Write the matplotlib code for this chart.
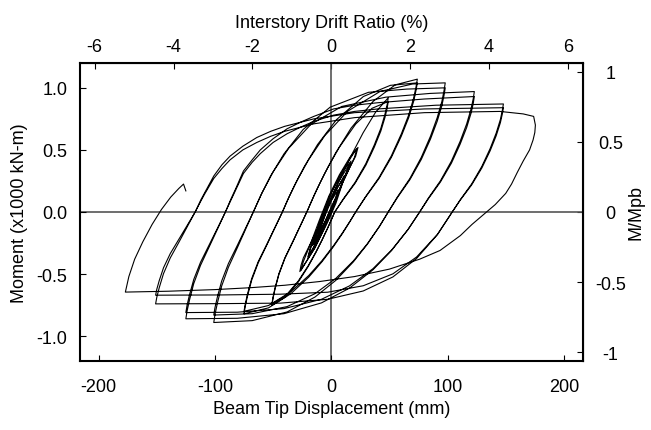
import matplotlib
matplotlib.use("Agg")
import matplotlib.pyplot as plt
import numpy as np

plt.rcParams["font.family"] = ["Liberation Sans", "DejaVu Sans"]
plt.rcParams["font.size"] = 13
plt.rcParams["axes.unicode_minus"] = False

# conversion factors for the secondary axes
mm_per_pct = 33.9     # beam tip mm per 1 % drift
mpb = 1.128           # Mpb in x1000 kN-m

# hysteresis path, (displacement mm, moment x1000 kN-m), in loading order
elastic_cycles = [
    (0, 0.0), (3, 0.08), (6, 0.17),
    (4, 0.11), (1, 0.03), (-4, -0.07), (-10, -0.16),
    (-8, -0.10), (-5, -0.02), (0, 0.09), (6, 0.18),
    (4, 0.12), (0, 0.04), (-5, -0.07), (-11, -0.18),
    (-9, -0.11), (-6, -0.03), (1, 0.13), (11, 0.28),
    (9, 0.22), (5, 0.13), (0, 0.02), (-8, -0.13), (-15, -0.26),
    (-12, -0.18), (-8, -0.09), (-3, 0.04), (5, 0.19), (11, 0.29),
    (9, 0.22), (4, 0.11), (-2, -0.01), (-9, -0.15), (-16, -0.27),
    (-14, -0.21), (-10, -0.11), (-4, 0.04), (6, 0.24), (16, 0.39),
    (14, 0.34), (9, 0.22), (4, 0.10), (-1, -0.01), (-7, -0.14), (-13, -0.25), (-20, -0.36),
    (-18, -0.29), (-13, -0.17), (-7, -0.01), (1, 0.17), (9, 0.32), (17, 0.41),
    (14, 0.34), (9, 0.23), (3, 0.08), (-3, -0.05), (-11, -0.21), (-20, -0.37),
    (-18, -0.30), (-14, -0.20), (-8, -0.03), (0, 0.16), (8, 0.30), (15, 0.41), (19, 0.47), (22, 0.51),
    (20, 0.44), (15, 0.34), (8, 0.20), (1, 0.02), (-6, -0.13), (-15, -0.30), (-26, -0.47),
    (-24, -0.40), (-18, -0.26), (-10, -0.06), (-2, 0.13), (7, 0.30), (16, 0.44), (23, 0.52),
    (21, 0.45), (16, 0.36), (10, 0.24), (4, 0.07), (-3, -0.08), (-14, -0.29), (-27, -0.48),
]
up_50_1 = [(-27, -0.48), (-26, -0.43), (-24, -0.37), (-14, -0.18), (-5, 0.0), (-2.8, 0.047),
           (-0.1, 0.106), (3.6, 0.184), (9, 0.296), (16.6, 0.444), (27.4, 0.638), (38.2, 0.805), (49, 0.92)]
down_50_1 = [(49, 0.92), (48.1, 0.867), (46.2, 0.788), (42.6, 0.673), (37, 0.54), (29.7, 0.389), (20.5, 0.239),
             (10.4, 0.106), (3, 0.0), (0.3, -0.058), (-3.5, -0.137), (-7.8, -0.222), (-13.2, -0.322),
             (-19.7, -0.431), (-28.3, -0.555), (-39.1, -0.674), (-51, -0.74)]
up_50_2 = [(-51, -0.74), (-50.1, -0.688), (-48.3, -0.61), (-45, -0.496), (-39.9, -0.37), (-33, -0.237),
           (-27, -0.118), (-21, 0.0), (-18.2, 0.06), (-14.7, 0.134), (-9.8, 0.231), (-2.8, 0.361), (7, 0.522),
           (21, 0.708), (35, 0.835), (49, 0.89)]
down_50_2 = [(49, 0.89), (48.1, 0.838), (46.2, 0.762), (42.6, 0.651), (37, 0.522), (29.7, 0.376), (20.5, 0.231),
             (10.4, 0.102), (3, 0.0), (0.3, -0.059), (-3.5, -0.139), (-7.8, -0.225), (-13.2, -0.326),
             (-19.7, -0.437), (-28.3, -0.563), (-39.1, -0.683), (-51, -0.75)]
up_75_1 = [(-51, -0.75), (-50.1, -0.698), (-48.3, -0.619), (-45, -0.503), (-39.9, -0.375), (-33, -0.24),
           (-27, -0.12), (-21, 0.0), (-17.2, 0.082), (-12.5, 0.18), (-5.8, 0.308), (3.7, 0.475), (17, 0.675),
           (36, 0.891), (55, 1.024), (74, 1.07)]
down_75_1 = [(74, 1.07), (72.9, 1.008), (70.8, 0.916), (66.6, 0.782), (60.2, 0.628), (51.7, 0.453), (41.1, 0.278),
             (29.5, 0.123), (21, 0.0), (16.2, -0.075), (9.5, -0.175), (1.8, -0.28), (-7.8, -0.399),
             (-19.3, -0.524), (-34.7, -0.658), (-53.9, -0.772), (-75, -0.82)]
up_75_2 = [(-75, -0.82), (-74, -0.763), (-72, -0.677), (-68.4, -0.549), (-62.8, -0.41), (-55.2, -0.262),
           (-48.6, -0.131), (-42, 0.0), (-37.4, 0.099), (-31.6, 0.214), (-23.4, 0.362), (-11.8, 0.543),
           (4.4, 0.743), (27.6, 0.93), (50.8, 1.02), (74, 1.04)]
down_75_2 = [(74, 1.04), (72.9, 0.98), (70.8, 0.89), (66.6, 0.76), (60.2, 0.61), (51.7, 0.44), (41.1, 0.27),
             (29.5, 0.12), (21, 0.0), (16.2, -0.073), (9.5, -0.17), (1.8, -0.273), (-7.8, -0.39),
             (-19.3, -0.511), (-34.7, -0.642), (-53.9, -0.753), (-75, -0.80)]
up_100_1 = [(-75, -0.80), (-74, -0.744), (-72, -0.66), (-68.4, -0.536), (-62.8, -0.4), (-55.2, -0.256),
            (-48.6, -0.128), (-42, 0.0), (-36.4, 0.119), (-29.4, 0.253), (-19.6, 0.419), (-5.6, 0.614),
            (14, 0.811), (42, 0.971), (70, 1.031), (98, 1.04)]
down_100_1 = [(98, 1.04), (97, 0.98), (95.1, 0.89), (91.1, 0.76), (85.3, 0.61), (77.4, 0.44), (67.6, 0.27),
              (56.8, 0.12), (49, 0.0), (41.5, -0.115), (31, -0.26), (19, -0.402), (4, -0.55), (-14, -0.685),
              (-38, -0.805), (-68, -0.875), (-101, -0.89)]
up_100_2 = [(-101, -0.89), (-100, -0.828), (-97.9, -0.734), (-94.2, -0.596), (-88.4, -0.445), (-80.6, -0.285),
            (-73.8, -0.142), (-67, 0.0), (-60.4, 0.138), (-52.2, 0.29), (-40.6, 0.469), (-24.1, 0.665),
            (-1, 0.844), (32, 0.964), (65, 0.99), (98, 1.0)]
down_100_2 = [(98, 1.0), (97, 0.942), (95.1, 0.856), (91.1, 0.731), (85.3, 0.587), (77.4, 0.423), (67.6, 0.26),
              (56.8, 0.115), (49, 0.0), (41.5, -0.115), (31, -0.256), (19, -0.394), (4, -0.534), (-14, -0.658),
              (-38, -0.762), (-68, -0.819), (-101, -0.83)]
up_125_1 = [(-101, -0.83), (-100, -0.772), (-97.9, -0.685), (-94.2, -0.556), (-88.4, -0.415), (-80.6, -0.266),
            (-73.8, -0.133), (-67, 0.0), (-59.4, 0.156), (-49.9, 0.324), (-36.6, 0.513), (-17.6, 0.705),
            (9, 0.85), (47, 0.925), (85, 0.955), (123, 0.97)]
down_125_1 = [(123, 0.97), (122.1, 0.914), (120.2, 0.83), (116.4, 0.709), (110.8, 0.569), (103.3, 0.41),
              (93.9, 0.252), (83.5, 0.112), (76, 0.0), (66, -0.141), (51.9, -0.31), (35.8, -0.466),
              (15.7, -0.613), (-8.4, -0.732), (-40.6, -0.819), (-80.8, -0.856), (-125, -0.86)]
up_125_2 = [(-125, -0.86), (-124, -0.8), (-121.9, -0.71), (-118.2, -0.576), (-112.4, -0.43), (-104.6, -0.275),
            (-97.8, -0.138), (-91, 0.0), (-86, 0.11), (-82.5, 0.18), (-75.5, 0.33), (-68, 0.42), (-61, 0.5),
            (-50, 0.59), (-38, 0.67), (-26, 0.725), (-15, 0.77), (2, 0.83), (20, 0.86), (40, 0.88),
            (80, 0.91), (123, 0.93)]
down_125_2 = [(123, 0.93), (122.1, 0.876), (120.2, 0.796), (116.4, 0.68), (110.8, 0.546), (103.3, 0.393),
              (93.9, 0.242), (83.5, 0.107), (76, 0.0), (66, -0.141), (51.9, -0.306), (35.8, -0.457),
              (15.7, -0.595), (-8.4, -0.703), (-40.6, -0.778), (-80.8, -0.807), (-125, -0.81)]
up_150_1 = [(-125, -0.81), (-124, -0.753), (-121.9, -0.668), (-118.2, -0.543), (-112.4, -0.405),
            (-104.6, -0.259), (-97.8, -0.13), (-91, 0.0), (-86, 0.1), (-82.5, 0.17), (-75.5, 0.31), (-68, 0.4),
            (-61, 0.47), (-50, 0.56), (-38, 0.63), (-26, 0.685), (-15, 0.73), (2, 0.78), (20, 0.81),
            (40, 0.83), (90, 0.86), (148, 0.87)]
down_150_1 = [(148, 0.87), (147.1, 0.82), (145.4, 0.745), (141.8, 0.636), (136.6, 0.511), (129.5, 0.368),
              (120.7, 0.226), (111, 0.1), (104, 0.0), (91.3, -0.182), (73.4, -0.374), (53, -0.523),
              (27.5, -0.636), (-3.1, -0.703), (-43.9, -0.734), (-94.9, -0.738), (-151, -0.74)]
up_150_2 = [(-151, -0.74), (-150, -0.688), (-147.9, -0.61), (-144.2, -0.496), (-138.4, -0.37), (-130.6, -0.237),
            (-123.8, -0.118), (-117, 0.0), (-112, 0.1), (-108.5, 0.16), (-101, 0.29), (-94, 0.38), (-87, 0.45),
            (-76, 0.53), (-64, 0.6), (-52, 0.65), (-40, 0.69), (-15, 0.75), (20, 0.8), (80, 0.83), (148, 0.84)]
down_150_2 = [(148, 0.84), (147.1, 0.791), (145.4, 0.719), (141.8, 0.614), (136.6, 0.493), (129.5, 0.355),
              (120.7, 0.218), (111, 0.097), (104, 0.0), (91.3, -0.18), (73.4, -0.362), (53, -0.498),
              (27.5, -0.594), (-3.1, -0.646), (-43.9, -0.662), (-94.9, -0.668), (-151, -0.67)]
up_175 = [(-151, -0.67), (-150, -0.623), (-147.9, -0.553), (-144.2, -0.449), (-138.4, -0.335), (-130.6, -0.214),
          (-123.8, -0.107), (-117, 0.0), (-112, 0.09), (-108.5, 0.15), (-101, 0.27), (-94, 0.35), (-87, 0.42),
          (-76, 0.5), (-64, 0.56), (-52, 0.61), (-40, 0.65), (-15, 0.71), (20, 0.76), (80, 0.8), (145, 0.81),
          (165, 0.79), (174, 0.77)]
down_175 = [(174, 0.77), (175.5, 0.7), (175, 0.64), (173.5, 0.58), (170.5, 0.5), (165, 0.41), (160, 0.32),
            (155, 0.225), (150, 0.15), (141, 0.06), (131, -0.02), (121, -0.1), (111, -0.19), (93.5, -0.31),
            (76, -0.38), (50, -0.46), (20, -0.52), (-10, -0.56), (-40, -0.59), (-70, -0.61), (-100, -0.625),
            (-140, -0.638), (-177, -0.645)]
final_reload = [(-177, -0.645), (-174, -0.52), (-169, -0.38), (-162, -0.24), (-154, -0.1), (-146, 0.02),
                (-138, 0.12), (-131, 0.19), (-127, 0.225), (-125, 0.17)]

history = [elastic_cycles, up_50_1, down_50_1, up_50_2, down_50_2, up_75_1, down_75_1, up_75_2, down_75_2,
           up_100_1, down_100_1, up_100_2, down_100_2, up_125_1, down_125_1, up_125_2, down_125_2,
           up_150_1, down_150_1, up_150_2, down_150_2, up_175, down_175, final_reload]

pts = np.array([p for seg in history for p in seg])
disp, moment = pts[:, 0], pts[:, 1]

fig = plt.figure(figsize=(6.51, 4.31), dpi=100)
ax = fig.add_axes([80 / 651, 69 / 431, 502.5 / 651, 298 / 431])

ax.axhline(0, color="#555555", lw=1.2, zorder=1)
ax.axvline(0, color="#555555", lw=1.2, zorder=1)
ax.plot(disp, moment, color="black", lw=0.8, zorder=2)

ax.set_xlim(-216, 216)
ax.set_ylim(-1.2, 1.2)
ax.set_xticks([-200, -100, 0, 100, 200])
ax.set_yticks([-1.0, -0.5, 0.0, 0.5, 1.0])
ax.set_yticklabels(["-1.0", "-0.5", "0.0", "0.5", "1.0"])
ax.tick_params(direction="in", length=4, width=0.8)
ax.tick_params(axis="x", pad=12)
ax.tick_params(axis="y", pad=9)
for s in ax.spines.values():
    s.set_linewidth(1.5)

ax.set_xlabel("Beam Tip Displacement (mm)", labelpad=4)
ax.set_ylabel("Moment (x1000 kN-m)", labelpad=6)

top = ax.secondary_xaxis("top", functions=(lambda d: d / mm_per_pct, lambda p: p * mm_per_pct))
top.set_xticks([-6, -4, -2, 0, 2, 4, 6])
top.tick_params(direction="in", length=4, width=0.8, pad=6)
top.set_xlabel("Interstory Drift Ratio (%)", labelpad=8)

right = ax.secondary_yaxis("right", functions=(lambda m: m / mpb, lambda r: r * mpb))
right.set_yticks([-1, -0.5, 0, 0.5, 1])
right.set_yticklabels(["-1", "-0.5", "0", "0.5", "1"], ha="center")
right.tick_params(direction="in", length=4, width=0.8, pad=20)
right.set_ylabel("M/Mpb", labelpad=1)

fig.savefig("out.png", dpi=100)
